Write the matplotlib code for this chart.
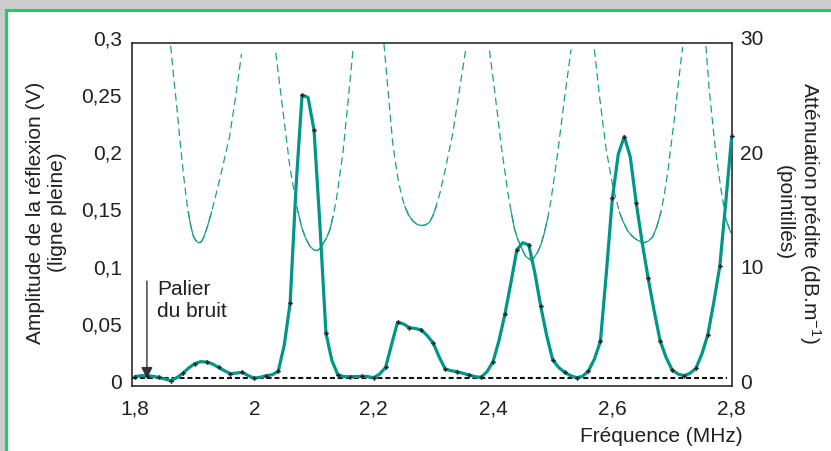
import numpy as np
import matplotlib
matplotlib.use('Agg')
import matplotlib.pyplot as plt
from matplotlib.patches import Rectangle

plt.rcParams['font.family'] = ['Liberation Sans', 'DejaVu Sans']
plt.rcParams['mathtext.default'] = 'regular'

# Amplitude de la réflexion (V), lue tous les 0,01 MHz de 1,8 à 2,8 MHz
# (les points marqués sont ceux tous les 0,02 MHz)
amp = [
    0.0029, 0.0038, 0.0038, 0.0032, 0.0023, 0.0009, -0.0006, 0.0020, 0.0058, 0.0105,
    0.0143, 0.0160, 0.0157, 0.0140, 0.0110, 0.0081, 0.0055, 0.0061, 0.0067, 0.0038,
    0.0015, 0.0024, 0.0038, 0.0046, 0.0076, 0.0300, 0.0673, 0.1700, 0.2490, 0.2470,
    0.2188, 0.1350, 0.0411, 0.0170, 0.0046, 0.0030, 0.0029, 0.0030, 0.0032, 0.0030,
    0.0020, 0.0052, 0.0110, 0.0310, 0.0504, 0.0490, 0.0457, 0.0450, 0.0437, 0.0387,
    0.0321, 0.0198, 0.0096, 0.0081, 0.0073, 0.0058, 0.0044, 0.0029, 0.0024, 0.0073,
    0.0160, 0.0344, 0.0577, 0.0850, 0.1139, 0.1200, 0.1180, 0.0940, 0.0644, 0.0387,
    0.0177, 0.0110, 0.0067, 0.0038, 0.0020, 0.0032, 0.0081, 0.0184, 0.0338, 0.0940,
    0.1588, 0.1976, 0.2127, 0.1950, 0.1547, 0.1200, 0.0889, 0.0606, 0.0344, 0.0198,
    0.0090, 0.0052, 0.0038, 0.0058, 0.0102, 0.0227, 0.0396, 0.0680, 0.0994, 0.1550,
    0.2130,
]
freq = np.linspace(1.8, 2.8, len(amp))

# Atténuation prédite (dB/m), une branche en U par lobe
att_f1 = [1.8598, 1.8648, 1.8698, 1.8753, 1.8808, 1.8850, 1.8892, 1.8934, 1.8976, 1.9018,
          1.9059, 1.9105, 1.9155, 1.9213, 1.9284, 1.9352, 1.9423, 1.9502, 1.9582, 1.9682, 1.9786]
att_v1 = [29.2, 26.5, 24.0, 21.0, 18.2, 16.3, 14.7, 13.5, 12.6, 12.2,
          12.0, 12.05, 12.5, 13.4, 14.7, 16.1, 17.6, 19.4, 21.2, 24.6, 28.5]
att_f2 = [2.0360, 2.0482, 2.0594, 2.0678, 2.0733, 2.0790, 2.0859, 2.0929, 2.0991, 2.1051,
          2.1101, 2.1151, 2.1208, 2.1264, 2.1319, 2.1376, 2.1486, 2.1570, 2.1654]
att_v2 = [28.6, 23.4, 18.7, 16.1, 14.7, 13.4, 12.4, 11.7, 11.4, 11.3,
          11.5, 11.9, 12.4, 13.1, 14.3, 15.8, 19.9, 24.3, 28.9]
att_f3 = [2.2172, 2.2239, 2.2323, 2.2407, 2.2460, 2.2519, 2.2586, 2.2658, 2.2728, 2.2798,
          2.2870, 2.2937, 2.2996, 2.3049, 2.3113, 2.3188, 2.3327, 2.3439, 2.3540]
att_v3 = [29.4, 25.4, 20.5, 17.6, 16.3, 15.2, 14.4, 13.9, 13.6, 13.5,
          13.55, 13.8, 14.4, 15.2, 16.4, 18.1, 21.6, 25.4, 28.8]
att_f4 = [2.3941, 2.4025, 2.4137, 2.4248, 2.4305, 2.4360, 2.4415, 2.4472, 2.4549, 2.4628,
          2.4690, 2.4750, 2.4807, 2.4862, 2.4918, 2.4974, 2.5085, 2.5197, 2.5309]
att_v4 = [28.8, 25.4, 20.5, 16.4, 14.7, 13.2, 12.3, 11.6, 10.8, 10.5,
          10.7, 11.2, 11.9, 12.9, 14.2, 15.8, 19.9, 24.6, 28.9]
att_f5 = [2.5699, 2.5782, 2.5895, 2.6005, 2.6117, 2.6184, 2.6256, 2.6326, 2.6397, 2.6469,
          2.6536, 2.6603, 2.6675, 2.6745, 2.6815, 2.6870, 2.6926, 2.7038, 2.7121, 2.7177]
att_v5 = [28.9, 24.9, 20.2, 17.0, 14.7, 13.8, 13.05, 12.6, 12.3, 12.1,
          12.0, 12.15, 12.5, 13.4, 14.7, 16.2, 18.1, 22.8, 26.6, 29.1]
att_f6 = [2.7568, 2.7623, 2.7707, 2.7763, 2.7819, 2.7903, 2.7941, 2.7983]
att_v6 = [29.2, 25.4, 21.1, 18.8, 16.7, 14.1, 13.5, 12.9]

noise_level = 0.0018
noise_span = [1.7945, 2.792]

xticks = [1.8, 2.0, 2.2, 2.4, 2.6, 2.8]
xtick_labels = ['1,8', '2', '2,2', '2,4', '2,6', '2,8']
yticks = [0, 0.05, 0.1, 0.15, 0.2, 0.25, 0.3]
ytick_labels = ['0', '0,05', '0,1', '0,15', '0,2', '0,25', '0,3']
y2ticks = [0, 10, 20, 30]
y2tick_labels = ['0', '10', '20', '30']

TEAL = '#00968a'
THIN = '#1a9e92'
TXT = '#231f20'
GREEN = '#14d266'
FS = 15

fig = plt.figure(figsize=(8.31, 4.52), dpi=100)
fig.patch.set_facecolor('#cccccc')
fig.add_artist(Rectangle((5.5 / 831, -0.05), 1.1, 1 - 11 / 452 + 0.05,
                         transform=fig.transFigure, facecolor='white',
                         edgecolor=GREEN, lw=2.2, zorder=-10))

ax = fig.add_axes([131.7 / 831, (452 - 387.3) / 452, 600 / 831, (387.3 - 37.8) / 452])
ax2 = ax.twinx()

ax.set_xlim(1.7945, 2.799)
ax.set_ylim(-0.0055, 0.3)
ax2.set_ylim(-0.55, 30)

# courbes d'atténuation (pointillés en haut, trait plein près du minimum)
for fx, fv in [(att_f1, att_v1), (att_f2, att_v2), (att_f3, att_v3),
               (att_f4, att_v4), (att_f5, att_v5), (att_f6, att_v6)]:
    fx = np.array(fx)
    fv = np.array(fv)
    ax2.plot(fx, fv, color=THIN, lw=0.9, dashes=(6, 3.5))
    low = fv <= 15.3
    ax2.plot(fx[low], fv[low], color=THIN, lw=0.9, solid_joinstyle='round')

# palier du bruit
ax.plot(noise_span, [noise_level, noise_level], color='#111111', lw=1.5,
        dashes=(2.4, 1.4), zorder=2)

# amplitude mesurée
ax.plot(freq, amp, color=TEAL, lw=2.3, zorder=3, clip_on=False,
        solid_capstyle='round', solid_joinstyle='round')
ax.plot(freq[::2], amp[::2], ls='none', marker='P', ms=3.3, color='#222222',
        mec='none', zorder=4, clip_on=False)

ax.annotate('', xy=(1.820, 0.0012), xytext=(1.820, 0.0865),
            arrowprops=dict(arrowstyle='-|>', color='#333333', lw=1.0,
                            mutation_scale=17, shrinkA=0, shrinkB=0))
ax.text(1.8368, 0.0885, 'Palier\ndu bruit', fontsize=FS, color=TXT,
        ha='left', va='top', linespacing=1.2)

ax.set_zorder(ax2.get_zorder() + 1)
ax.patch.set_visible(False)

for s in ['left', 'bottom', 'top']:
    ax.spines[s].set_color('#2b2b2b')
    ax.spines[s].set_linewidth(1.2)
ax.spines['right'].set_visible(False)
ax.spines['top'].set_position(('data', 0.295))
ax.spines['left'].set_bounds(-0.0055, 0.295)
for s in ['left', 'bottom', 'top']:
    ax2.spines[s].set_visible(False)
ax2.spines['right'].set_color('#2b2b2b')
ax2.spines['right'].set_linewidth(1.2)
ax2.spines['right'].set_bounds(-0.55, 29.5)

ax.set_xticks(xticks)
ax.set_xticklabels(xtick_labels)
ax.set_yticks(yticks)
ax.set_yticklabels(ytick_labels)
ax2.set_yticks(y2ticks)
ax2.set_yticklabels(y2tick_labels)
ax.tick_params(axis='x', length=0, pad=9, labelsize=FS, labelcolor=TXT)
ax.tick_params(axis='y', length=0, pad=7, labelsize=FS, labelcolor=TXT)
ax2.tick_params(axis='y', length=0, pad=6, labelsize=FS, labelcolor=TXT)

ax.set_ylabel('Amplitude de la réflexion (V)\n(ligne pleine)', fontsize=FS,
              color=TXT, linespacing=1.2)
ax.yaxis.set_label_coords(-0.108, 0.5)
ax2.set_ylabel('Atténuation prédite (dB.m$^{-1}$)\n(pointillés)', fontsize=FS,
               color=TXT, rotation=270, va='bottom', linespacing=1.2)
ax2.yaxis.set_label_coords(1.072, 0.5)

fig.text(743 / 831, 1 - 437 / 452, 'Fréquence (MHz)', fontsize=FS, color=TXT,
         ha='right', va='center')

fig.savefig('out.png', dpi=100)
